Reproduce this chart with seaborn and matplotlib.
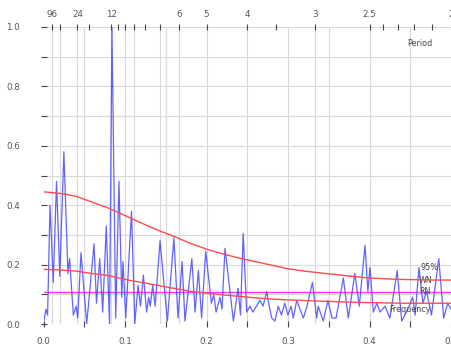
import matplotlib
matplotlib.use("Agg")
import matplotlib.pyplot as plt
import seaborn as sns
import pandas as pd

# ---- data ----
freq = [0.0, 0.003, 0.005, 0.008, 0.012, 0.016, 0.020, 0.025, 0.030, 0.032, 0.0366,
        0.040, 0.042, 0.046, 0.053, 0.062, 0.065, 0.069, 0.0726, 0.077, 0.081, 0.084,
        0.0886, 0.0926, 0.096, 0.0975, 0.1009, 0.108, 0.112, 0.116, 0.119, 0.1225,
        0.1266, 0.129, 0.131, 0.134, 0.137, 0.143, 0.152, 0.160, 0.165, 0.170, 0.1736,
        0.182, 0.186, 0.190, 0.194, 0.199, 0.206, 0.209, 0.2117, 0.2166, 0.219, 0.2227,
        0.233, 0.2387, 0.2417, 0.245, 0.2493, 0.2534, 0.257, 0.2656, 0.2693, 0.274,
        0.2755, 0.280, 0.284, 0.288, 0.292, 0.296, 0.300, 0.3037, 0.3065, 0.3107,
        0.3147, 0.3188, 0.3233, 0.330, 0.3352, 0.337, 0.3433, 0.349, 0.354, 0.359,
        0.3679, 0.374, 0.382, 0.3875, 0.3945, 0.398, 0.4006, 0.4047, 0.409, 0.413,
        0.419, 0.425, 0.434, 0.4395, 0.447, 0.453, 0.456, 0.4607, 0.4656, 0.470,
        0.476, 0.485, 0.491, 0.496, 0.500]
power = [0.0, 0.05, 0.03, 0.40, 0.14, 0.48, 0.16, 0.58, 0.17, 0.22, 0.03,
         0.06, 0.02, 0.24, 0.0, 0.27, 0.07, 0.22, 0.04, 0.33, 0.0, 1.0,
         0.02, 0.48, 0.09, 0.21, 0.02, 0.38, 0.0, 0.13, 0.06, 0.165,
         0.04, 0.09, 0.06, 0.13, 0.06, 0.28, 0.01, 0.29, 0.02, 0.21, 0.01,
         0.22, 0.04, 0.18, 0.02, 0.245, 0.07, 0.10, 0.04, 0.09, 0.05, 0.255,
         0.01, 0.12, 0.03, 0.305, 0.04, 0.06, 0.04, 0.08, 0.06, 0.11,
         0.08, 0.02, 0.01, 0.06, 0.03, 0.07, 0.03, 0.06, 0.02, 0.08,
         0.05, 0.02, 0.06, 0.14, 0.02, 0.06, 0.01, 0.08, 0.02, 0.02,
         0.155, 0.02, 0.17, 0.06, 0.265, 0.11, 0.19, 0.04, 0.07, 0.04,
         0.06, 0.02, 0.18, 0.01, 0.05, 0.09, 0.03, 0.19, 0.07, 0.11,
         0.03, 0.22, 0.02, 0.07, 0.05]

ci_freq = [0.0, 0.02, 0.04, 0.06, 0.08, 0.10, 0.12, 0.14, 0.16, 0.18, 0.20, 0.22,
           0.24, 0.26, 0.28, 0.30, 0.32, 0.34, 0.36, 0.38, 0.40, 0.42, 0.44, 0.46,
           0.48, 0.50]
ci95 = [0.445, 0.44, 0.43, 0.41, 0.39, 0.365, 0.34, 0.316, 0.295, 0.272, 0.252, 0.236,
        0.222, 0.21, 0.198, 0.186, 0.178, 0.172, 0.166, 0.16, 0.155, 0.152, 0.15, 0.149,
        0.148, 0.148]
red_noise = [0.184, 0.182, 0.178, 0.17, 0.163, 0.15, 0.14, 0.13, 0.12, 0.11, 0.104, 0.098,
             0.093, 0.088, 0.084, 0.081, 0.079, 0.077, 0.075, 0.073, 0.072, 0.071, 0.070,
             0.070, 0.070, 0.070]
wn_freq = [0.0, 0.5]
wn_level = [0.107, 0.107]

period_major = [96, 24, 12, 6, 5, 4, 3, 2.5, 2]
period_major_labels = ["96", "24", "12", "6", "5", "4", "3", "2.5", "2"]
period_minor = [48, 18, 11, 10, 9, 8, 7, 3.5, 2.4, 2.3, 2.2, 2.1]
period_grid = [96, 48, 24, 12, 9, 7, 6, 3]

x_ticks = [0.0, 0.1, 0.2, 0.3, 0.4, 0.5]
x_ticklabels = ["0.0", "0.1", "0.2", "0.3", "0.4", "0.5"]
y_ticks = [0.0, 0.2, 0.4, 0.6, 0.8, 1.0]
y_ticklabels = ["0.0", "0.2", "0.4", "0.6", "0.8", "1.0"]

# ---- figure ----
sns.set_style("white")
plt.rcParams['font.family'] = ['DejaVu Sans']
fig = plt.figure(figsize=(4.51, 3.47), dpi=100)
ax = fig.add_axes([43.5 / 451, 23 / 347, (451 - 43.5) / 451, 297 / 347])

grid_c = "#d9d9d9"
for v in [0.1 * i for i in range(1, 11)]:
    ax.axhline(v, color=grid_c, lw=0.8, zorder=0)
for v in [0.05 * i for i in range(1, 10)] + [1.0 / p for p in period_grid]:
    ax.axvline(v, color=grid_c, lw=0.8, zorder=0)

df_spec = pd.DataFrame({"Frequency": freq, "Power": power})
df_ci = pd.DataFrame({"Frequency": ci_freq, "CI95": ci95, "RN": red_noise})
df_wn = pd.DataFrame({"Frequency": wn_freq, "WN": wn_level})

sns.lineplot(data=df_wn, x="Frequency", y="WN", ax=ax, color="#ff33ff", lw=1.0, zorder=2)
sns.lineplot(data=df_spec, x="Frequency", y="Power", ax=ax, color="#4848ff", lw=0.9,
             alpha=0.85, sort=False, estimator=None, zorder=3)
sns.lineplot(data=df_ci, x="Frequency", y="CI95", ax=ax, color="#ff4a4a", lw=1.0, zorder=4)
sns.lineplot(data=df_ci, x="Frequency", y="RN", ax=ax, color="#ff4a4a", lw=1.0, zorder=4)

ax.set_xlim(0, 0.5)
ax.set_ylim(0, 1.0)
ax.set_xlabel("")
ax.set_ylabel("")
for s in ax.spines.values():
    s.set_visible(False)

ax.set_xticks(x_ticks)
ax.set_xticklabels(x_ticklabels)
ax.set_xticks([0.05, 0.15, 0.25, 0.35, 0.45], minor=True)
ax.set_yticks(y_ticks)
ax.set_yticklabels(y_ticklabels)
ax.set_yticks([0.1, 0.3, 0.5, 0.7, 0.9], minor=True)
ax.tick_params(axis="both", which="both", direction="inout", color="#444444",
               labelcolor="#555555", labelsize=6.3, width=0.8)
ax.tick_params(axis="x", which="both", length=4, pad=7, bottom=True)
ax.tick_params(axis="y", which="both", length=4, pad=15, left=True)

ax2 = ax.twiny()
ax2.set_xlim(0, 0.5)
for s in ax2.spines.values():
    s.set_visible(False)
ax2.set_xticks([1.0 / p for p in period_major])
ax2.set_xticklabels(period_major_labels)
ax2.set_xticks([1.0 / p for p in period_minor], minor=True)
ax2.tick_params(axis="x", which="both", direction="inout", length=4, color="#444444",
                labelcolor="#555555", labelsize=6.3, pad=4, width=0.8)

txt_kw = dict(fontsize=5.8, color="#444444", ha="left", va="center")
ax.text(0.446, 0.945, "Period", **txt_kw)
ax.text(0.463, 0.191, "95%", **txt_kw)
ax.text(0.461, 0.148, "WN", **txt_kw)
ax.text(0.461, 0.108, "RN", **txt_kw)
ax.text(0.424, 0.05, "Frequency", **txt_kw)

fig.savefig("out.png", dpi=100)
